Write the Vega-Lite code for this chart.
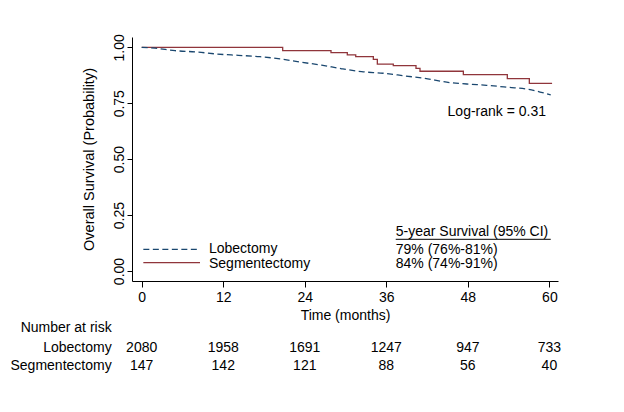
{
  "$schema": "https://vega.github.io/schema/vega-lite/v6.json",
  "width": 426,
  "height": 244,
  "autosize": {"type": "none"},
  "padding": {"left": 132, "top": 37, "right": 66, "bottom": 131},
  "config": {
    "view": {"stroke": null},
    "font": "Liberation Sans",
    "text": {"font": "Liberation Sans", "fontSize": 14, "color": "#000000"}
  },
  "datasets": {
    "seg": [
      {"month": 0, "surv": 1.0},
      {"month": 20.75, "surv": 0.985},
      {"month": 27.86, "surv": 0.976},
      {"month": 30.26, "surv": 0.966},
      {"month": 31.5, "surv": 0.958},
      {"month": 34.09, "surv": 0.946},
      {"month": 34.68, "surv": 0.925},
      {"month": 37.03, "surv": 0.918},
      {"month": 40.37, "surv": 0.906},
      {"month": 40.96, "surv": 0.893},
      {"month": 47.34, "surv": 0.878},
      {"month": 53.81, "surv": 0.86},
      {"month": 57.05, "surv": 0.839},
      {"month": 60.4, "surv": 0.839}
    ],
    "lob": [
      {"month": 0, "surv": 1.0},
      {"month": 1.96, "surv": 0.996},
      {"month": 4.9, "surv": 0.985},
      {"month": 8.1, "surv": 0.979},
      {"month": 11.04, "surv": 0.97},
      {"month": 14.22, "surv": 0.964},
      {"month": 17.41, "surv": 0.958},
      {"month": 20.36, "surv": 0.948},
      {"month": 23.3, "surv": 0.934},
      {"month": 26.49, "surv": 0.92},
      {"month": 29.44, "surv": 0.904},
      {"month": 32.38, "surv": 0.891},
      {"month": 35.56, "surv": 0.884},
      {"month": 38.76, "surv": 0.872},
      {"month": 41.7, "surv": 0.861},
      {"month": 44.89, "surv": 0.844},
      {"month": 47.84, "surv": 0.836},
      {"month": 50.78, "surv": 0.83},
      {"month": 53.96, "surv": 0.821},
      {"month": 56.9, "surv": 0.812},
      {"month": 58.63, "surv": 0.8},
      {"month": 60.2, "surv": 0.787}
    ],
    "risk": [
      {"group": "Lobectomy", "month": 0, "n": 2080},
      {"group": "Lobectomy", "month": 12, "n": 1958},
      {"group": "Lobectomy", "month": 24, "n": 1691},
      {"group": "Lobectomy", "month": 36, "n": 1247},
      {"group": "Lobectomy", "month": 48, "n": 947},
      {"group": "Lobectomy", "month": 60, "n": 733},
      {"group": "Segmentectomy", "month": 0, "n": 147},
      {"group": "Segmentectomy", "month": 12, "n": 142},
      {"group": "Segmentectomy", "month": 24, "n": 121},
      {"group": "Segmentectomy", "month": 36, "n": 88},
      {"group": "Segmentectomy", "month": 48, "n": 56},
      {"group": "Segmentectomy", "month": 60, "n": 40}
    ]
  },
  "layer": [
    {
      "data": {"name": "seg"},
      "mark": {"type": "line", "interpolate": "step-after", "color": "#90353B", "strokeWidth": 1.3},
      "encoding": {
        "x": {
          "field": "month", "type": "quantitative",
          "scale": {"domain": [-1.428, 61.27], "nice": false, "zero": false},
          "axis": {
            "values": [0, 12, 24, 36, 48, 60], "grid": false, "title": "Time (months)",
            "domainColor": "#000000", "tickColor": "#000000", "tickSize": 6,
            "labelFont": "Liberation Sans", "labelFontSize": 14, "labelColor": "#000000", "labelPadding": 3,
            "titleFont": "Liberation Sans", "titleFontSize": 14, "titleFontWeight": "normal", "titleColor": "#000000", "titlePadding": 4
          }
        },
        "y": {
          "field": "surv", "type": "quantitative",
          "scale": {"domain": [-0.0447, 1.046], "nice": false, "zero": false},
          "axis": {
            "values": [0, 0.25, 0.5, 0.75, 1], "format": ".2f", "grid": false, "title": "Overall Survival (Probability)",
            "domainColor": "#000000", "tickColor": "#000000", "tickSize": 5,
            "labelFont": "Liberation Sans", "labelFontSize": 14, "labelColor": "#000000", "labelPadding": 4,
            "labelAngle": -90, "labelAlign": "center", "labelBaseline": "alphabetic",
            "titleFont": "Liberation Sans", "titleFontSize": 14.5, "titleFontWeight": "normal", "titleColor": "#000000", "titlePadding": 16
          }
        }
      }
    },
    {
      "data": {"name": "lob"},
      "mark": {"type": "line", "interpolate": "monotone", "color": "#1A476F", "strokeWidth": 1.3, "strokeDash": [6, 3.5]},
      "encoding": {
        "x": {"field": "month", "type": "quantitative"},
        "y": {"field": "surv", "type": "quantitative"}
      }
    },
    {
      "data": {"values": [{}]},
      "mark": {"type": "rule", "color": "#1A476F", "strokeWidth": 1.3, "strokeDash": [6, 3.5]},
      "encoding": {
        "x": {"datum": 0.24, "type": "quantitative"},
        "x2": {"datum": 8.58},
        "y": {"datum": 0.097, "type": "quantitative"}
      }
    },
    {
      "data": {"values": [{}]},
      "mark": {"type": "rule", "color": "#90353B", "strokeWidth": 1.3},
      "encoding": {
        "x": {"datum": 0.24, "type": "quantitative"},
        "x2": {"datum": 8.58},
        "y": {"datum": 0.0371, "type": "quantitative"}
      }
    },
    {
      "data": {"values": [{}]},
      "mark": {"type": "text", "text": "Lobectomy", "align": "left", "baseline": "alphabetic"},
      "encoding": {
        "x": {"datum": 9.9, "type": "quantitative"},
        "y": {"datum": 0.079, "type": "quantitative"}
      }
    },
    {
      "data": {"values": [{}]},
      "mark": {"type": "text", "text": "Segmentectomy", "align": "left", "baseline": "alphabetic"},
      "encoding": {
        "x": {"datum": 9.9, "type": "quantitative"},
        "y": {"datum": 0.0147, "type": "quantitative"}
      }
    },
    {
      "data": {"values": [{}]},
      "mark": {"type": "text", "text": "Log-rank = 0.31", "align": "right", "baseline": "alphabetic"},
      "encoding": {
        "x": {"datum": 59.51, "type": "quantitative"},
        "y": {"datum": 0.695, "type": "quantitative"}
      }
    },
    {
      "data": {"values": [{}]},
      "mark": {"type": "text", "text": "5-year Survival (95% CI)", "align": "left", "baseline": "alphabetic"},
      "encoding": {
        "x": {"datum": 37.39, "type": "quantitative"},
        "y": {"datum": 0.156, "type": "quantitative"}
      }
    },
    {
      "data": {"values": [{}]},
      "mark": {"type": "rule", "color": "#000000", "strokeWidth": 1},
      "encoding": {
        "x": {"datum": 37.39, "type": "quantitative"},
        "x2": {"datum": 60.2},
        "y": {"datum": 0.1417, "type": "quantitative"}
      }
    },
    {
      "data": {"values": [{}]},
      "mark": {"type": "text", "text": "79% (76%-81%)", "align": "left", "baseline": "alphabetic"},
      "encoding": {
        "x": {"datum": 37.39, "type": "quantitative"},
        "y": {"datum": 0.0746, "type": "quantitative"}
      }
    },
    {
      "data": {"values": [{}]},
      "mark": {"type": "text", "text": "84% (74%-91%)", "align": "left", "baseline": "alphabetic"},
      "encoding": {
        "x": {"datum": 37.39, "type": "quantitative"},
        "y": {"datum": 0.012, "type": "quantitative"}
      }
    },
    {
      "data": {"values": [{}]},
      "mark": {"type": "text", "text": "Number at risk", "align": "right", "baseline": "alphabetic"},
      "encoding": {
        "x": {"datum": -4.42, "type": "quantitative"},
        "y": {"datum": -0.274, "type": "quantitative"}
      }
    },
    {
      "data": {"values": [{}]},
      "mark": {"type": "text", "text": "Lobectomy", "align": "right", "baseline": "alphabetic"},
      "encoding": {
        "x": {"datum": -4.42, "type": "quantitative"},
        "y": {"datum": -0.361, "type": "quantitative"}
      }
    },
    {
      "data": {"values": [{}]},
      "mark": {"type": "text", "text": "Segmentectomy", "align": "right", "baseline": "alphabetic"},
      "encoding": {
        "x": {"datum": -4.42, "type": "quantitative"},
        "y": {"datum": -0.443, "type": "quantitative"}
      }
    },
    {
      "data": {"name": "risk"},
      "transform": [{"filter": "datum.group === 'Lobectomy'"}],
      "mark": {"type": "text", "align": "center", "baseline": "alphabetic"},
      "encoding": {
        "x": {"field": "month", "type": "quantitative"},
        "y": {"datum": -0.361, "type": "quantitative"},
        "text": {"field": "n", "type": "quantitative", "format": "d"}
      }
    },
    {
      "data": {"name": "risk"},
      "transform": [{"filter": "datum.group === 'Segmentectomy'"}],
      "mark": {"type": "text", "align": "center", "baseline": "alphabetic"},
      "encoding": {
        "x": {"field": "month", "type": "quantitative"},
        "y": {"datum": -0.443, "type": "quantitative"},
        "text": {"field": "n", "type": "quantitative", "format": "d"}
      }
    }
  ]
}
